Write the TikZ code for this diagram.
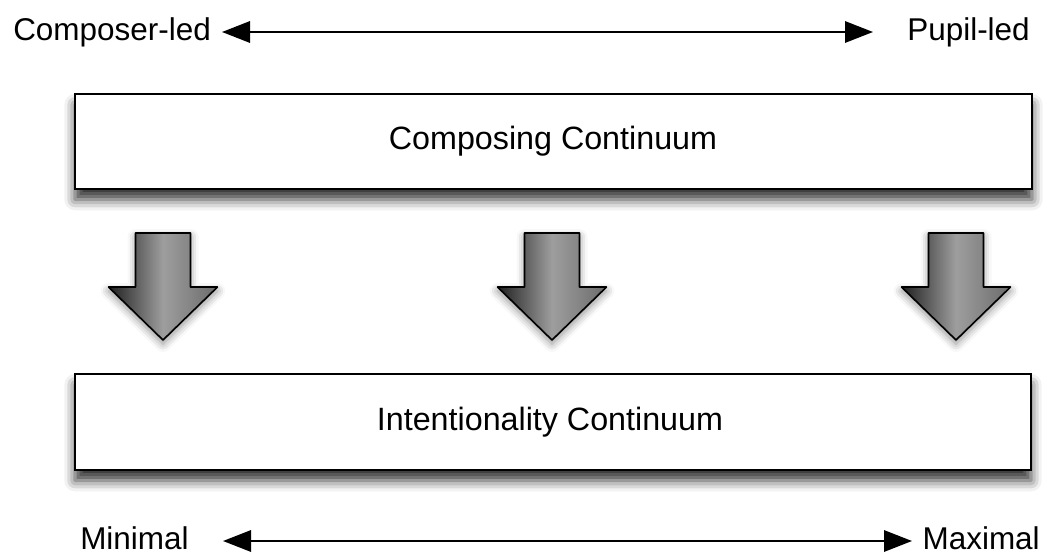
\documentclass[tikz,border=0pt]{standalone}
\usepackage{fontspec}
\setmainfont{Liberation Sans}
\usetikzlibrary{arrows.meta,shadows.blur}
\begin{document}
\begin{tikzpicture}[x=0.75pt,y=-0.75pt,
  lbl/.style={font=\fontsize{23.6}{28}\selectfont, inner sep=0pt, text height=17pt, text depth=4.5pt},
  boxlbl/.style={font=\fontsize{24.2}{29}\selectfont, inner sep=0pt, text height=17pt, text depth=4.5pt},
  contbox/.style={draw=black, line width=1.8pt, fill=white, inner sep=0pt,
    blur shadow={shadow xshift=0pt, shadow yshift=-8pt, shadow blur radius=8pt, shadow opacity=80}},
  biarrow/.style={{Triangle[length=21pt,width=16pt,fill=black,color=black]}-{Triangle[length=21pt,width=16pt,fill=black,color=black]}, draw=black, line width=1.6pt},
  downarrow/.style={draw=black, line width=1.2pt, line join=round, left color=black!88, right color=black!58, middle color=black!38,
    blur shadow={shadow xshift=0pt, shadow yshift=-3pt, shadow blur radius=6pt, shadow opacity=45}}
]
\useasboundingbox (0,0) rectangle (1050,554);

% top labels
\node[lbl, anchor=west] (cl) at (13,32) {Composer-led};
\node[lbl, anchor=east] (pl) at (1030,32) {Pupil-led};
\coordinate (t1) at (222,32);
\coordinate (t2) at (873,32);
\draw[biarrow] (t1) -- (t2);

% boxes
\path[contbox] (75,94) rectangle (1032,189);
\node[boxlbl] (cc) at (553,141) {Composing Continuum};
\path[contbox] (75,374) rectangle (1031,470);
\node[boxlbl] (ic) at (550,422) {Intentionality Continuum};

% down arrows
\foreach \cx/\nm in {163/da1, 552/da2, 956/da3} {
  \path[downarrow] (\cx-27.5,233) -- (\cx+27.5,233) -- (\cx+27.5,287) -- (\cx+54.5,287)
     -- (\cx,340) -- (\cx-54.5,287) -- (\cx-27.5,287) -- cycle;
}

% bottom labels
\node[lbl, anchor=west] (mi) at (80,541) {Minimal};
\node[lbl, anchor=east] (ma) at (1040,541) {Maximal};
\coordinate (b1) at (223,541);
\coordinate (b2) at (912,541);
\draw[biarrow] (b1) -- (b2);
\end{tikzpicture}
\end{document}
